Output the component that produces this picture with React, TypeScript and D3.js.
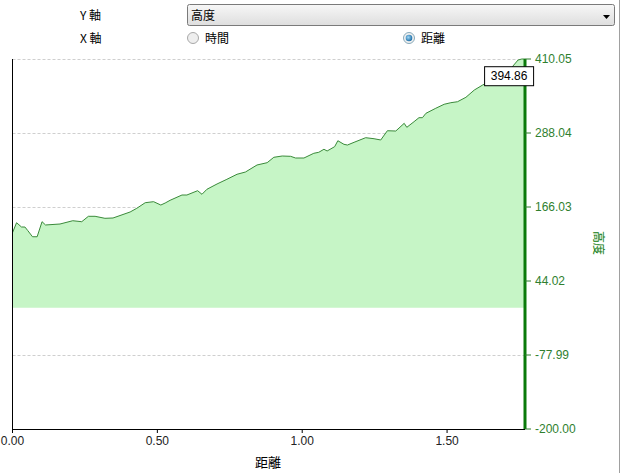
import React from "react";
import * as d3 from "d3";

const distances = [0, 0.014, 0.031, 0.043, 0.053, 0.069, 0.085, 0.102, 0.114, 0.164, 0.208, 0.239, 0.262, 0.285, 0.319, 0.347, 0.406, 0.429, 0.458, 0.487, 0.512, 0.527, 0.544, 0.585, 0.602, 0.639, 0.654, 0.671, 0.706, 0.74, 0.775, 0.804, 0.844, 0.879, 0.902, 0.931, 0.96, 0.977, 1.006, 1.04, 1.057, 1.075, 1.086, 1.112, 1.123, 1.144, 1.156, 1.179, 1.219, 1.248, 1.271, 1.294, 1.323, 1.352, 1.361, 1.386, 1.403, 1.415, 1.427, 1.461, 1.49, 1.513, 1.536, 1.565, 1.594, 1.623, 1.676, 1.721, 1.745, 1.758, 1.769];
const elevations = [123.6, 140.1, 133.1, 133, 127, 117, 117, 141.8, 136.4, 138, 143.4, 141.8, 150.7, 150.7, 147.4, 147.9, 157.8, 163.9, 173.1, 174.8, 169.3, 172.6, 177.1, 185.8, 185.8, 192.9, 187, 195.2, 204, 211.7, 220, 223.7, 235.3, 239.1, 248, 250.1, 249.6, 246.8, 246.8, 254.6, 256.2, 261.2, 258.4, 265.5, 275.3, 269.4, 268.2, 272.7, 280.3, 278.6, 276.5, 291.8, 291.3, 304, 297.4, 306.7, 313.3, 313.3, 320.5, 328.8, 335.4, 338, 339.6, 346.9, 358.9, 367.2, 380.4, 394.86, 408.4, 410.05, 410.05];
const yTicks = [-200.0, -77.99, 44.02, 166.03, 288.04, 410.05];
const xTicks = [0, 0.5, 1.0, 1.5];
const tooltipValue = 394.86;
const tooltipIndex = 67;

const cjk = "'Noto Sans CJK JP', 'Noto Sans', sans-serif";
const num = "'Liberation Sans', Arial, sans-serif";

export default function App() {
  const left = 12.5, right = 525, top = 59, bottom = 429;
  const x = d3.scaleLinear().domain([0, 1.769]).range([left, right]);
  const y = d3.scaleLinear().domain([-200, 410.05]).range([bottom, top]);
  const data = distances.map((d, i) => ({ d, v: elevations[i] }));
  const area = d3.area<{ d: number; v: number }>().x(p => x(p.d)).y0(y(0)).y1(p => y(p.v));
  const line = d3.line<{ d: number; v: number }>().x(p => x(p.d)).y(p => y(p.v));
  const green = "#2f7f2f";
  const tx = x(distances[tooltipIndex]);
  const ty = y(tooltipValue);

  return (
    <svg width={623} height={473} style={{ position: "absolute", left: 0, top: 0, background: "#fff" }}>
      <defs>
        <linearGradient id="dd" x1="0" y1="0" x2="0" y2="1">
          <stop offset="0" stopColor="#f7f7f7" />
          <stop offset="1" stopColor="#dedede" />
        </linearGradient>
        <radialGradient id="rb" cx="0.4" cy="0.4" r="0.6">
          <stop offset="0" stopColor="#9fd6f5" />
          <stop offset="1" stopColor="#1e6fa8" />
        </radialGradient>
      </defs>
      {/* header controls */}
      <text x={80} y={20} fontFamily={cjk} fontSize={12} fill="#000">Y 軸</text>
      <text x={80} y={43} fontFamily={cjk} fontSize={12} fill="#000">X 軸</text>
      <rect x={187.5} y={4.5} width={427} height={21} rx={2} fill="url(#dd)" stroke="#7a7a7a" />
      <text x={191} y={20} fontFamily={cjk} fontSize={12} fill="#000">高度</text>
      <path d="M603,15 L610,15 L606.5,19 Z" fill="#000" />
      <circle cx={193} cy={38} r={5.5} fill="#eee" stroke="#a8a8a8" />
      <text x={205} y={43} fontFamily={cjk} fontSize={12} fill="#000">時間</text>
      <circle cx={409} cy={38} r={5.5} fill="#f0f0f0" stroke="#8ab" />
      <circle cx={409} cy={38} r={3.3} fill="url(#rb)" />
      <text x={421} y={43} fontFamily={cjk} fontSize={12} fill="#000">距離</text>
      <line x1={619.5} y1={0} x2={619.5} y2={473} stroke="#a0a0a0" />

      {/* grid */}
      {yTicks.map(t => (
        <line key={"g" + t} x1={left} x2={right} y1={Math.round(y(t)) + 0.5} y2={Math.round(y(t)) + 0.5} stroke="#cfcfcf" strokeDasharray="3,2" />
      ))}
      {/* area */}
      <path d={area(data) || ""} fill="#c6f5c6" />
      <path d={line(data) || ""} fill="none" stroke="#3a8a3a" strokeWidth={1} />

      {/* axes */}
      <line x1={left} x2={left} y1={top} y2={bottom} stroke="#000" />
      <line x1={left} x2={right} y1={bottom + 0.5} y2={bottom + 0.5} stroke="#000" />
      {xTicks.map(t => (
        <g key={"x" + t}>
          <line x1={x(t)} x2={x(t)} y1={bottom} y2={bottom + 4} stroke="#000" />
          <text x={x(t)} y={445} textAnchor="middle" fontFamily={num} fontSize={12} fill="#222">{t.toFixed(2)}</text>
        </g>
      ))}
      <text x={268} y={467} textAnchor="middle" fontFamily={cjk} fontSize={13} fill="#000">距離</text>

      <line x1={right} x2={right} y1={top} y2={bottom} stroke="#0a7a0a" strokeWidth={3} />
      {yTicks.map(t => (
        <g key={"y" + t}>
          <line x1={right} x2={right + 6} y1={y(t)} y2={y(t)} stroke={green} />
          <text x={535} y={y(t) + 4} fontFamily={num} fontSize={12} fill={green}>{t.toFixed(2)}</text>
        </g>
      ))}
      <text transform="translate(594,243) rotate(90)" textAnchor="middle" fontFamily={cjk} fontSize={12} fill="#0a7a0a">高度</text>

      {/* tooltip */}
      <rect x={tx - 26.5} y={ty - 1.5} width={49} height={19} fill="#fff" stroke="#000" />
      <text x={tx - 2} y={ty + 12} textAnchor="middle" fontFamily={num} fontSize={12} fill="#000">{tooltipValue.toFixed(2)}</text>
    </svg>
  );
}
